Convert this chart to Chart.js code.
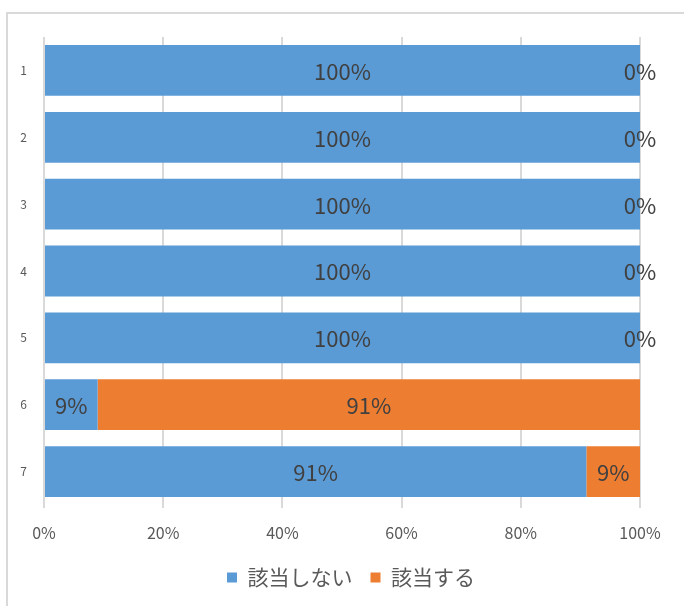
<!DOCTYPE html>
<html lang="ja">
<head>
<meta charset="UTF-8">
<title>該当状況</title>
<script src="https://cdn.jsdelivr.net/npm/chart.js"></script>
<style>
  html, body { margin: 0; padding: 0; background: #fff; }
  #wrap { position: relative; width: 684px; height: 606px; overflow: hidden; }
  #frame { position: absolute; left: 6px; top: 12px; width: 700px; height: 620px;
           border-top: 2px solid #d9d9d9; border-left: 2px solid #d9d9d9; }
  canvas { position: absolute; left: 0; top: 0; }
</style>
</head>
<body>
<div id="wrap">
  <div id="frame"></div>
  <canvas id="chart" width="684" height="606"></canvas>
</div>
<script>
// data
const categories = ['1', '2', '3', '4', '5', '6', '7'];
const notApplicable = [100, 100, 100, 100, 100, 9, 91];   // 該当しない
const applicable = [0, 0, 0, 0, 0, 91, 9];                // 該当する
const seriesNames = ['該当しない', '該当する'];
const xTicks = [0, 20, 40, 60, 80, 100];

const FONT = "'Noto Sans CJK JP', 'Noto Sans', sans-serif";

// draw value labels in the middle of each segment
const valueLabels = {
  id: 'valueLabels',
  afterDatasetsDraw(chart) {
    const ctx = chart.ctx;
    ctx.save();
    ctx.font = '22px ' + FONT;
    ctx.fillStyle = '#404040';
    ctx.textAlign = 'center';
    ctx.textBaseline = 'middle';
    chart.data.datasets.forEach((ds, i) => {
      const meta = chart.getDatasetMeta(i);
      meta.data.forEach((el, j) => {
        const x = (el.x + el.base) / 2;
        ctx.fillText(ds.data[j] + '%', x, el.y + 1);
      });
    });
    ctx.restore();
  }
};

// legend is centred on the whole frame, not the plot
const legendShift = {
  id: 'legendShift',
  afterLayout(chart) {
    chart.legend.left += 31;
    chart.legend.right += 31;
  }
};

new Chart(document.getElementById('chart').getContext('2d'), {
  type: 'bar',
  data: {
    labels: categories,
    datasets: [
      { label: seriesNames[0], data: notApplicable, backgroundColor: '#5B9BD5' },
      { label: seriesNames[1], data: applicable, backgroundColor: '#ED7D31' }
    ]
  },
  options: {
    indexAxis: 'y',
    responsive: false,
    animation: false,
    barPercentage: 0.76,
    categoryPercentage: 1,
    layout: { padding: { top: 37, right: 44, bottom: 8, left: 0 } },
    scales: {
      x: {
        stacked: true,
        min: 0,
        max: 100,
        afterBuildTicks(scale) { scale.ticks = xTicks.map(v => ({ value: v })); },
        afterFit(scale) { scale.height = 44; },
        grid: { color: '#d9d9d9', lineWidth: 2, tickLength: 3, tickColor: '#d9d9d9' },
        border: { display: false },
        ticks: {
          padding: 15,
          color: '#595959',
          font: { family: FONT, size: 16 },
          callback: v => v + '%'
        }
      },
      y: {
        stacked: true,
        afterFit(scale) { scale.width = 44; },
        grid: { display: false },
        border: { display: false },
        ticks: {
          padding: 9,
          color: '#595959',
          font: { family: FONT, size: 12 }
        }
      }
    },
    plugins: {
      legend: {
        position: 'bottom',
        labels: {
          boxWidth: 10,
          boxHeight: 10,
          padding: 18,
          color: '#595959',
          font: { family: FONT, size: 21 }
        }
      },
      tooltip: { enabled: false }
    }
  },
  plugins: [valueLabels, legendShift]
});
</script>
</body>
</html>
